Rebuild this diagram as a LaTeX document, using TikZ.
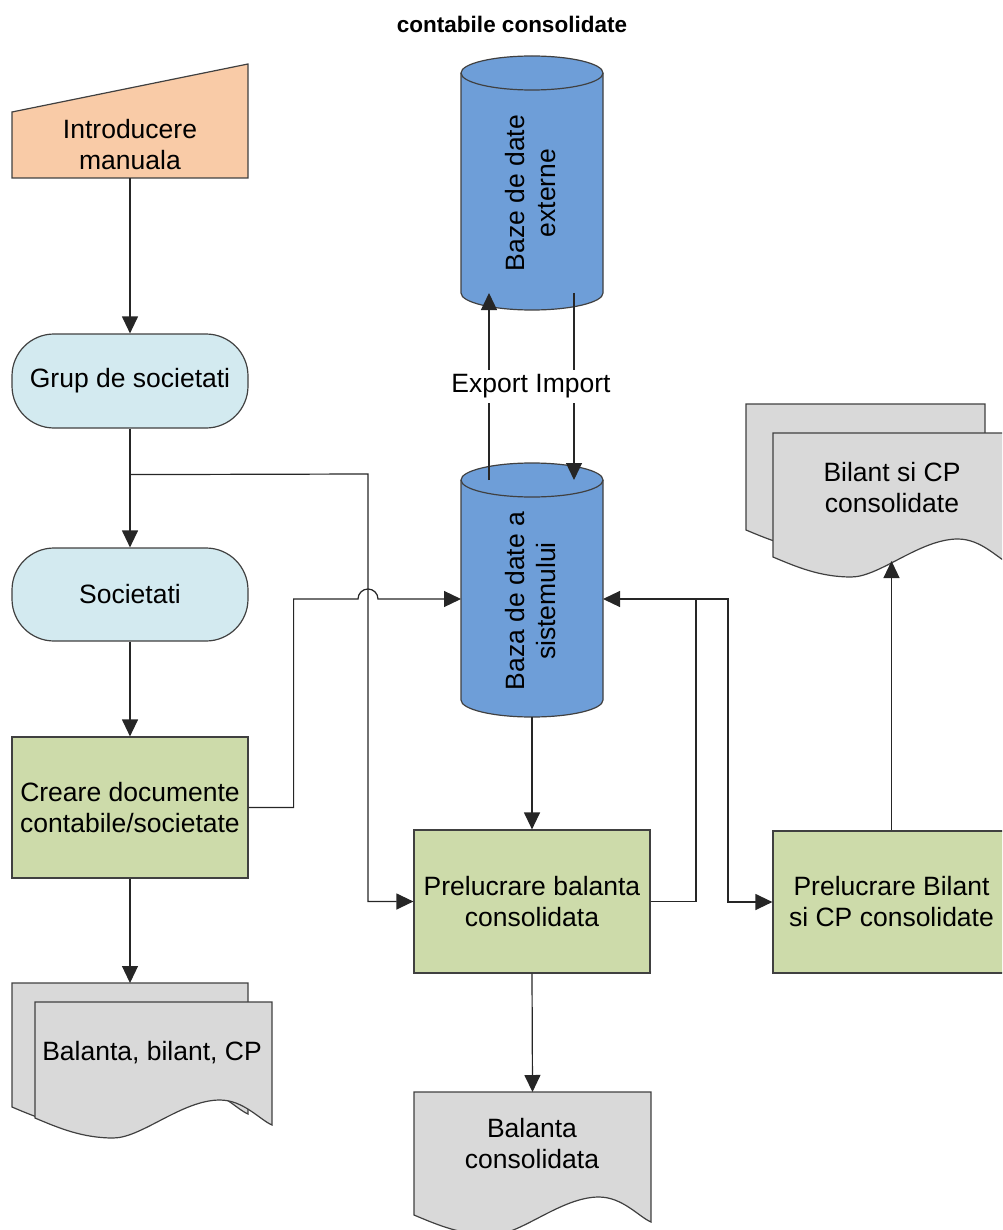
\documentclass[tikz,border=0pt]{standalone}
\usepackage{fontspec}
\setmainfont{Liberation Sans}
\usetikzlibrary{arrows.meta,calc}

\definecolor{peach}{RGB}{249,203,167}
\definecolor{paleblue}{RGB}{211,234,240}
\definecolor{procgreen}{RGB}{205,219,170}
\definecolor{dbblue}{RGB}{110,158,216}
\definecolor{docgray}{RGB}{217,217,217}
\definecolor{edge}{RGB}{64,64,64}

\tikzset{
  txt/.style={font=\fontsize{26.5}{31}\selectfont, align=center, inner sep=0pt},
  outline/.style={draw=edge, line width=1.2pt},
  procbox/.style={txt, outline, fill=procgreen, minimum width=236pt, minimum height=142pt},
  termbox/.style={txt, outline, fill=paleblue, rounded corners=42pt, minimum width=236pt, minimum height=94pt},
  frame/.style={inner sep=0pt, outer sep=0pt},
  conn/.style={draw=black!85, line width=1.2pt},
  arr/.style={conn, -{Triangle[length=17pt,width=16pt]}},
  docst/.style={outline, fill=docgray},
  dbst/.style={outline, fill=dbblue},
}

% document symbol: left x, top y, width, height of the left edge
\newcommand{\docshape}[4]{%
  \filldraw[docst] (#1,#2) -- ({#1+#3},#2) -- ({#1+#3},{#2+#4+7})
    .. controls ({#1+0.95*#3},{#2+#4+2}) and ({#1+0.88*#3},{#2+#4-18}) .. ({#1+0.78*#3},{#2+#4-18})
    .. controls ({#1+0.62*#3},{#2+#4-18}) and ({#1+0.45*#3},{#2+#4+20}) .. ({#1+0.33*#3},{#2+#4+20})
    .. controls ({#1+0.2*#3},{#2+#4+20}) and ({#1+0.1*#3},{#2+#4+10}) .. (#1,{#2+#4}) -- cycle;}

% database cylinder between x=461 and x=603: top and bottom rim y
\newcommand{\dbshape}[2]{%
  \filldraw[dbst] (461,#1) arc[start angle=180,end angle=0,x radius=71pt,y radius=17pt]
    -- (603,#2) arc[start angle=0,end angle=-180,x radius=71pt,y radius=17pt] -- cycle;
  \draw[outline] (461,#1) arc[start angle=180,end angle=360,x radius=71pt,y radius=17pt];}

\begin{document}
\begin{tikzpicture}[x=1pt,y=-1pt]
\useasboundingbox (0,0) rectangle (1002,1230);
\clip (0,0) rectangle (1002,1230);

% heading
\node[font=\fontsize{22.5}{27}\selectfont\bfseries, anchor=base, inner sep=0pt] (title) at (512,33) {contabile consolidate};

% manual input
\filldraw[outline, fill=peach] (12,112) -- (248,64) -- (248,178) -- (12,178) -- cycle;
\node[txt, minimum width=236pt, minimum height=66pt] (man) at (130,145) {Introducere\\manuala};

% terminators and processes
\node[termbox] (grup) at (130,381) {Grup de societati};
\node[termbox, minimum height=93pt] (soc) at (130,594.5) {Societati};
\node[procbox, minimum height=141pt] (creare) at (130,807.5) {Creare documente\\contabile/societate};
\node[procbox, minimum height=143pt] (pbal) at (532,901.5) {Prelucrare balanta\\consolidata};
\node[procbox, minimum width=237pt] (pbil) at (891.5,902) {Prelucrare Bilant\\si CP consolidate};

% databases
\dbshape{73}{293}
\node[frame, minimum width=142pt, minimum height=220pt] (ext) at (532,183) {};
\node[txt, rotate=90] (extT) at (531,193) {Baze de date\\externe};
\dbshape{480}{700}
\node[frame, minimum width=142pt, minimum height=220pt] (sys) at (532,590) {};
\node[txt, rotate=90] (sysT) at (531,601) {Baza de date a\\sistemului};

% documents
\docshape{12}{983}{236}{124}
\docshape{35}{1002}{237}{116}
\node[frame, minimum width=236pt, minimum height=124pt] (docback) at (130,1045) {};
\node[txt] (docaT) at (152,1053) {Balanta, bilant, CP};

\docshape{746}{404}{239}{126}
\docshape{773}{433}{237}{124}
\node[frame, minimum width=237pt, minimum height=128pt] (bilf) at (891.5,497) {};
\node[txt] (bilfT) at (892,488) {Bilant si CP\\consolidate};

\docshape{414}{1092}{237}{123}
\node[frame, minimum width=237pt, minimum height=123pt] (balc) at (532.5,1153.5) {};
\node[txt] (balcT) at (532,1144) {Balanta\\consolidata};

% connectors
\coordinate (split) at ([yshift=-46pt]grup.south);
\coordinate (busx) at (368,474);
\coordinate (sysW) at ([yshift=-9pt]sys.west);
\coordinate (sysE) at ([yshift=-9pt]sys.east);
\coordinate (hopL) at (358,599);
\coordinate (tee) at (696,599);

\draw[arr] (man.south) -- (grup.north);
\draw[arr] (grup.south) -- (soc.north);
\draw[arr] (split) -- (busx) |- (pbal.west);
\draw[arr] (soc.south) -- (creare.north);
\draw[arr] (creare.south) -- (docback.north);
\draw[arr] (creare.east) -- ++(45,0) |- (hopL)
  arc[start angle=180,end angle=0,radius=10pt] -- (sysW);
\draw[arr] ([xshift=-43pt]sys.north) -- ([xshift=-43pt]ext.south);
\draw[arr] ([xshift=42pt]ext.south) -- ([xshift=42pt]sys.north);
\draw[arr] ([yshift=-17pt]sys.south) -- (pbal.north);
\draw[arr] (pbal.east) -| (tee) -- (sysE);
\draw[arr] (tee) -- ++(32,0) |- (pbil.west);
\draw[arr] (pbil.north) -- (bilf.south);
\draw[arr] (pbal.south) -- (balc.north);

\node[txt, fill=white, minimum height=33pt] (xlab) at (531,386.5) {Export Import};
\end{tikzpicture}
\end{document}
